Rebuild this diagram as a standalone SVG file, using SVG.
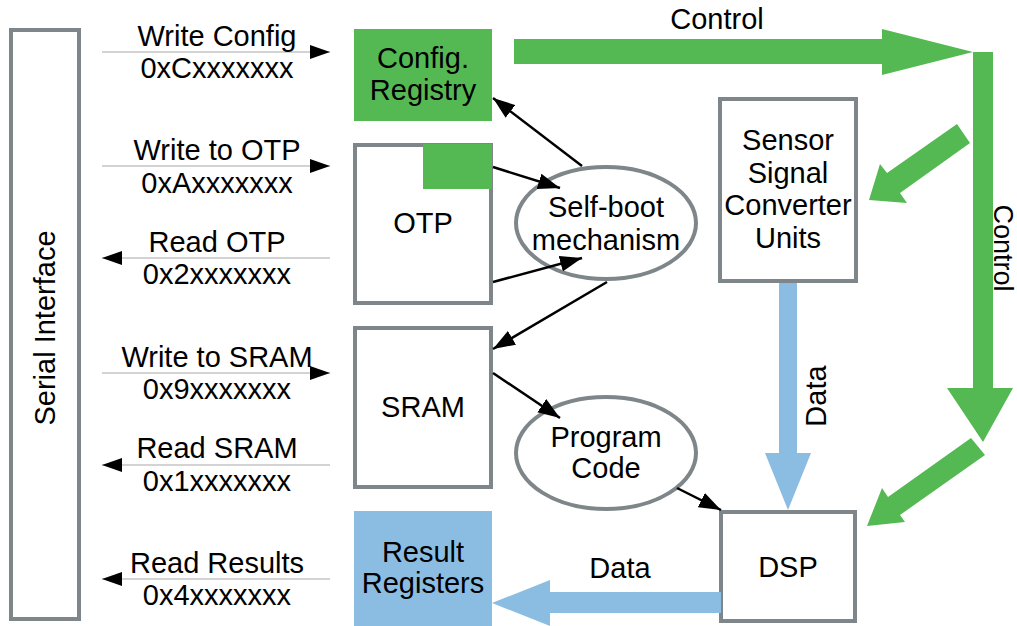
<svg xmlns="http://www.w3.org/2000/svg" width="1017" height="626" viewBox="0 0 1017 626">
<defs>
<style>
text{font-family:"Liberation Sans",Arial,sans-serif;font-size:29px;fill:#000;text-anchor:middle}
.box{fill:#fff;stroke:#7e8689;stroke-width:4}
.ell{fill:#fff;stroke:#7e8689;stroke-width:4}
.green{fill:#55b953}
.blue{fill:#8bbde3}
.thin{stroke:#c4c4c4;stroke-width:1.5;fill:none;marker-end:url(#hs)}
.blk{stroke:#000;stroke-width:2.5;fill:none;marker-end:url(#hb)}
</style>
<marker id="hs" markerUnits="userSpaceOnUse" markerWidth="20" markerHeight="14" refX="20" refY="7" orient="auto"><path d="M0,0 L20,7 L0,14 z" fill="#000"/></marker>
<marker id="hb" markerUnits="userSpaceOnUse" markerWidth="22" markerHeight="16" refX="22" refY="8" orient="auto"><path d="M0,0 L22,8 L0,16 z" fill="#000"/></marker>
</defs>
<rect width="1017" height="626" fill="#fff"/>

<g id="serial-interface">
<rect class="box" x="11" y="30" width="68" height="589"/>
<text transform="translate(55,328) rotate(-90)">Serial Interface</text>
</g>

<g id="config-registry">
<rect class="green" x="354" y="29" width="138" height="92"/>
<text x="423" y="68">Config.</text>
<text x="423" y="100">Registry</text>
</g>

<g id="otp">
<rect class="box" x="355" y="145" width="136" height="158"/>
<rect class="green" x="423" y="144" width="69" height="45"/>
<text x="423" y="233">OTP</text>
</g>

<g id="sram">
<rect class="box" x="355" y="328" width="136" height="159"/>
<text x="423" y="417">SRAM</text>
</g>

<g id="result-registers">
<rect class="blue" x="354" y="511" width="138" height="115"/>
<text x="423" y="562">Result</text>
<text x="423" y="593">Registers</text>
</g>

<g id="self-boot">
<ellipse class="ell" cx="606" cy="223" rx="90" ry="56"/>
<text x="606" y="217">Self-boot</text>
<text x="606" y="250">mechanism</text>
</g>

<g id="program-code">
<ellipse class="ell" cx="606" cy="453" rx="90" ry="56"/>
<text x="606" y="447">Program</text>
<text x="606" y="478">Code</text>
</g>

<g id="sensor-units">
<rect class="box" x="720" y="99" width="136" height="182"/>
<text x="788" y="150">Sensor</text>
<text x="788" y="183">Signal</text>
<text x="788" y="215">Converter</text>
<text x="788" y="248">Units</text>
</g>

<g id="dsp">
<rect class="box" x="721" y="512" width="134" height="109"/>
<text x="788" y="577">DSP</text>
</g>

<g id="connectors">
<line class="thin" x1="102" y1="52" x2="330" y2="52"/>
<text x="217" y="46">Write Config</text>
<text x="217" y="78">0xCxxxxxxx</text>

<line class="thin" x1="102" y1="166" x2="330" y2="166"/>
<text x="217" y="160">Write to OTP</text>
<text x="217" y="193">0xAxxxxxxx</text>

<line class="thin" x1="330" y1="258" x2="102" y2="258"/>
<text x="217" y="252">Read OTP</text>
<text x="217" y="284">0x2xxxxxxx</text>

<line class="thin" x1="102" y1="373" x2="330" y2="373"/>
<text x="217" y="367">Write to SRAM</text>
<text x="217" y="399">0x9xxxxxxx</text>

<line class="thin" x1="330" y1="465" x2="102" y2="465"/>
<text x="217" y="458">Read SRAM</text>
<text x="217" y="491">0x1xxxxxxx</text>

<line class="thin" x1="330" y1="579" x2="102" y2="579"/>
<text x="217" y="573">Read Results</text>
<text x="217" y="605">0x4xxxxxxx</text>

<line class="blk" x1="582" y1="166" x2="493" y2="98"/>
<line class="blk" x1="493" y1="167" x2="560" y2="188"/>
<line class="blk" x1="493" y1="282" x2="582" y2="258"/>
<line class="blk" x1="607" y1="282" x2="493" y2="349"/>
<line class="blk" x1="493" y1="373" x2="560" y2="418"/>
<line class="blk" x1="677" y1="488" x2="721" y2="510"/>

<polygon class="green" points="514,39 882,39 882,29 973,52 882,75 882,64 514,64"/>
<text x="717" y="29">Control</text>
<polygon class="green" points="973,52 993,52 993,388 1013,388 983,442 947,388 973,388"/>
<text transform="translate(994,248) rotate(90)" style="font-size:27px">Control</text>
<polygon class="green" points="957,124 970,143 900,193 907,203 869,200 880,164 887,173"/>
<polygon class="green" points="971,438 985,455 900,515 905,522 867,526 882,488 888,497"/>

<polygon class="blue" points="779,283 797,283 797,453 811,453 788,510 765,453 779,453"/>
<text transform="translate(826,396) rotate(-90)">Data</text>
<polygon class="blue" points="721,592 721,613 550,613 550,626 492,603 550,580 550,592"/>
<text x="620" y="578">Data</text>
</g>
</svg>
